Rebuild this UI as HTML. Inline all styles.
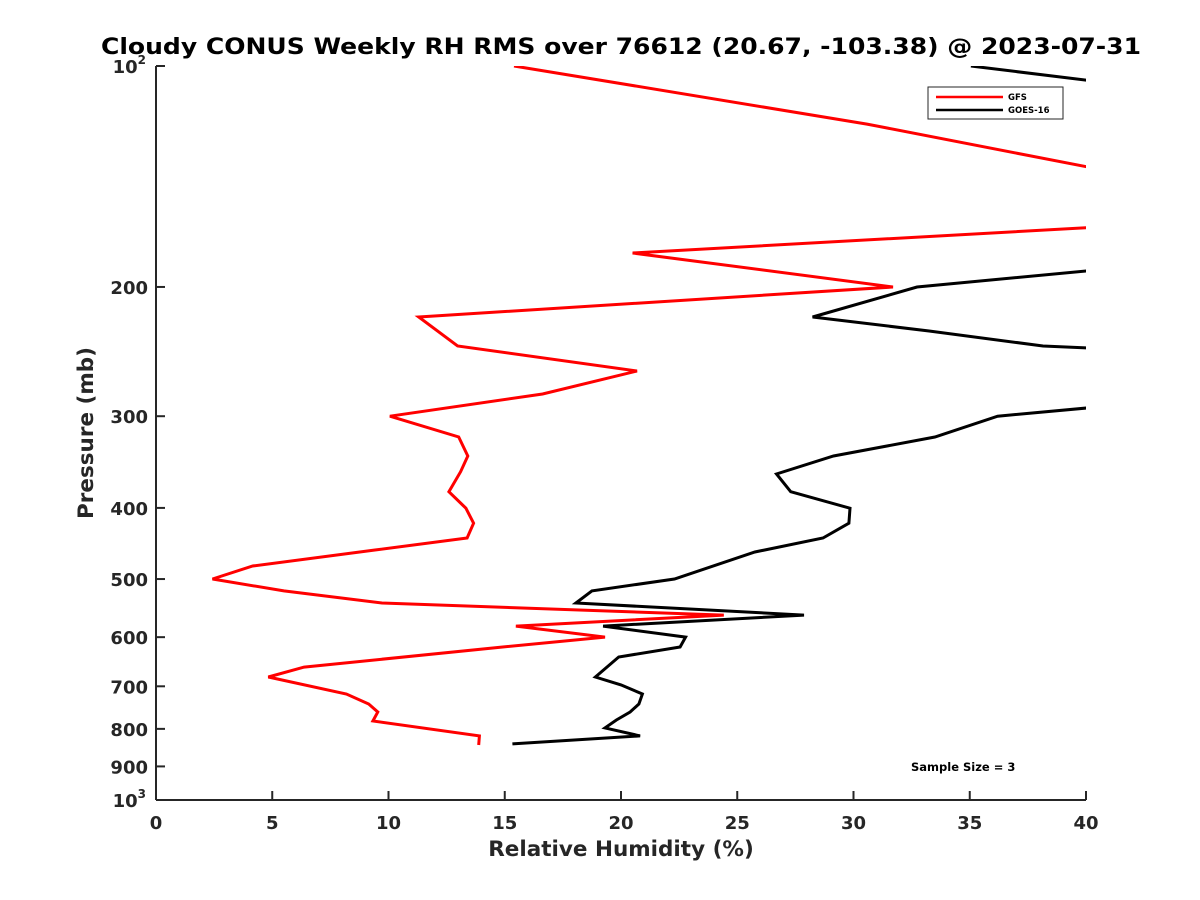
<!DOCTYPE html>
<html><head><meta charset="utf-8"><style>
body{margin:0;background:#fff;}
svg{display:block;font-family:"DejaVu Sans","Liberation Sans",sans-serif;font-weight:bold;}
</style></head><body>
<svg id="chart" width="1200" height="900" viewBox="0 0 1200 900" xmlns="http://www.w3.org/2000/svg">
<rect width="1200" height="900" fill="#fff"/>
<text x="621" y="54" text-anchor="middle" font-size="22" textLength="1040" lengthAdjust="spacingAndGlyphs" fill="#000">Cloudy CONUS Weekly RH RMS over 76612 (20.67, -103.38) @ 2023-07-31</text>
<defs><clipPath id="plotclip"><rect x="156" y="66" width="930" height="734"/></clipPath></defs>
<g id="axes"></g>
<g id="series" clip-path="url(#plotclip)"></g>
<text x="621" y="856" text-anchor="middle" font-size="21.5" fill="#262626">Relative Humidity (%)</text>
<text transform="translate(93,433) rotate(-90)" text-anchor="middle" font-size="21.5" fill="#262626">Pressure (mb)</text>
<g>
<rect x="928" y="87" width="135" height="32" fill="#fff" stroke="#262626" stroke-width="1"/>
<line x1="936" y1="97" x2="1003" y2="97" stroke="#f00" stroke-width="2.5"/>
<text x="1008" y="100" font-size="8.5">GFS</text>
<line x1="936" y1="110" x2="1003" y2="110" stroke="#000" stroke-width="2.5"/>
<text x="1008" y="113" font-size="8.5">GOES-16</text>
</g>
<text x="911" y="771" font-size="11.5">Sample Size = 3</text>
</svg>
<script>
const gfsRH=[15.4,30.58,40.1,40.1,20.5,31.7,11.3,12.97,20.69,16.63,10.06,13.02,13.41,13.1,12.6,13.33,13.66,13.38,9.42,4.16,2.43,5.5,9.72,24.42,15.48,19.31,14.91,6.37,4.83,8.19,9.15,9.54,9.33,13.91,13.88];
const gfsP=[100,120,137.3,166,179.8,200,219.8,240.7,260.3,279.8,300,320.2,339.9,357,380.2,400.3,419.6,439.6,456.4,480,500,519,539,559.8,579.5,599.8,618.8,659,679.9,717,740,758.8,780.4,817.9,841.4];
const goesRH=[35.05,40.5,40.5,32.73,28.24,33.25,38.15,40.5,40.5,36.2,33.5,29.14,26.69,27.3,29.85,29.8,28.69,25.76,22.3,18.75,18.06,27.87,19.23,22.78,22.54,19.9,18.9,20.0,20.92,20.77,20.39,19.8,19.31,20.82,15.33];
const goesP=[100,105,189.6,200,219.8,229.6,240.7,242.5,291.5,300,320.2,339.9,359.6,380.2,400.3,419.6,439.6,459.3,500,519,539,559.8,579.5,599.8,618.8,638.5,679.9,697,717,740,758.8,778,797.6,817.9,838.6];
const xTicks=[0,5,10,15,20,25,30,35,40];
const yTicks=[100,200,300,400,500,600,700,800,900,1000];
const yTickLabels=["","200","300","400","500","600","700","800","900",""];
const NS="http://www.w3.org/2000/svg";
const X0=156,X1=1086,Y0=66,Y1=800;
function xs(v){return X0+(v-0)/40*(X1-X0);}
function ys(p){return Y0+Math.log10(p/100)*(Y1-Y0);}
function mk(tag,attrs,parent){const e=document.createElementNS(NS,tag);for(const k in attrs)e.setAttribute(k,attrs[k]);parent.appendChild(e);return e;}
const axes=document.getElementById('axes');
const ax=mk('line',{x1:X0,y1:Y1,x2:X1,y2:Y1,stroke:'#262626','stroke-width':2},axes);


const ay=mk('line',{x1:X0,y1:Y0,x2:X0,y2:Y1,stroke:'#262626','stroke-width':2},axes);


xTicks.forEach(v=>{
  const t=mk('line',{x1:xs(v),y1:Y1,x2:xs(v),y2:Y1-9,stroke:'#262626','stroke-width':2},axes);
  
  
  const l=mk('text',{x:xs(v),y:Y1+29,'text-anchor':'middle','font-size':18,fill:'#262626'},axes);
  l.textContent=String(v);
  
  
});
yTicks.forEach((p,i)=>{
  const t=mk('line',{x1:X0,y1:ys(p),x2:X0+9,y2:ys(p),stroke:'#262626','stroke-width':2},axes);
  
  
  const l=mk('text',{x:X0-8,y:ys(p)+7,'text-anchor':'end','font-size':18,fill:'#262626'},axes);
  
  
  if(yTickLabels[i]){l.textContent=yTickLabels[i];}
  else{
    l.textContent='10';
    const s=mk('tspan',{dy:-9,'font-size':12},l);
    s.textContent=(p===100?'2':'3');
    l.setAttribute('x',X0-10);
  }
});
const series=document.getElementById('series');
function draw(rh,p,color,name){
  const pts=rh.map((v,i)=>xs(v).toFixed(1)+','+ys(p[i]).toFixed(1)).join(' ');
  const pl=mk('polyline',{points:pts,fill:'none',stroke:color,'stroke-width':3,'stroke-linejoin':'miter'},series);
  
  
}
draw(gfsRH,gfsP,'#f00','gfs-line');
draw(goesRH,goesP,'#000','goes16-line');
</script>
</body></html>
